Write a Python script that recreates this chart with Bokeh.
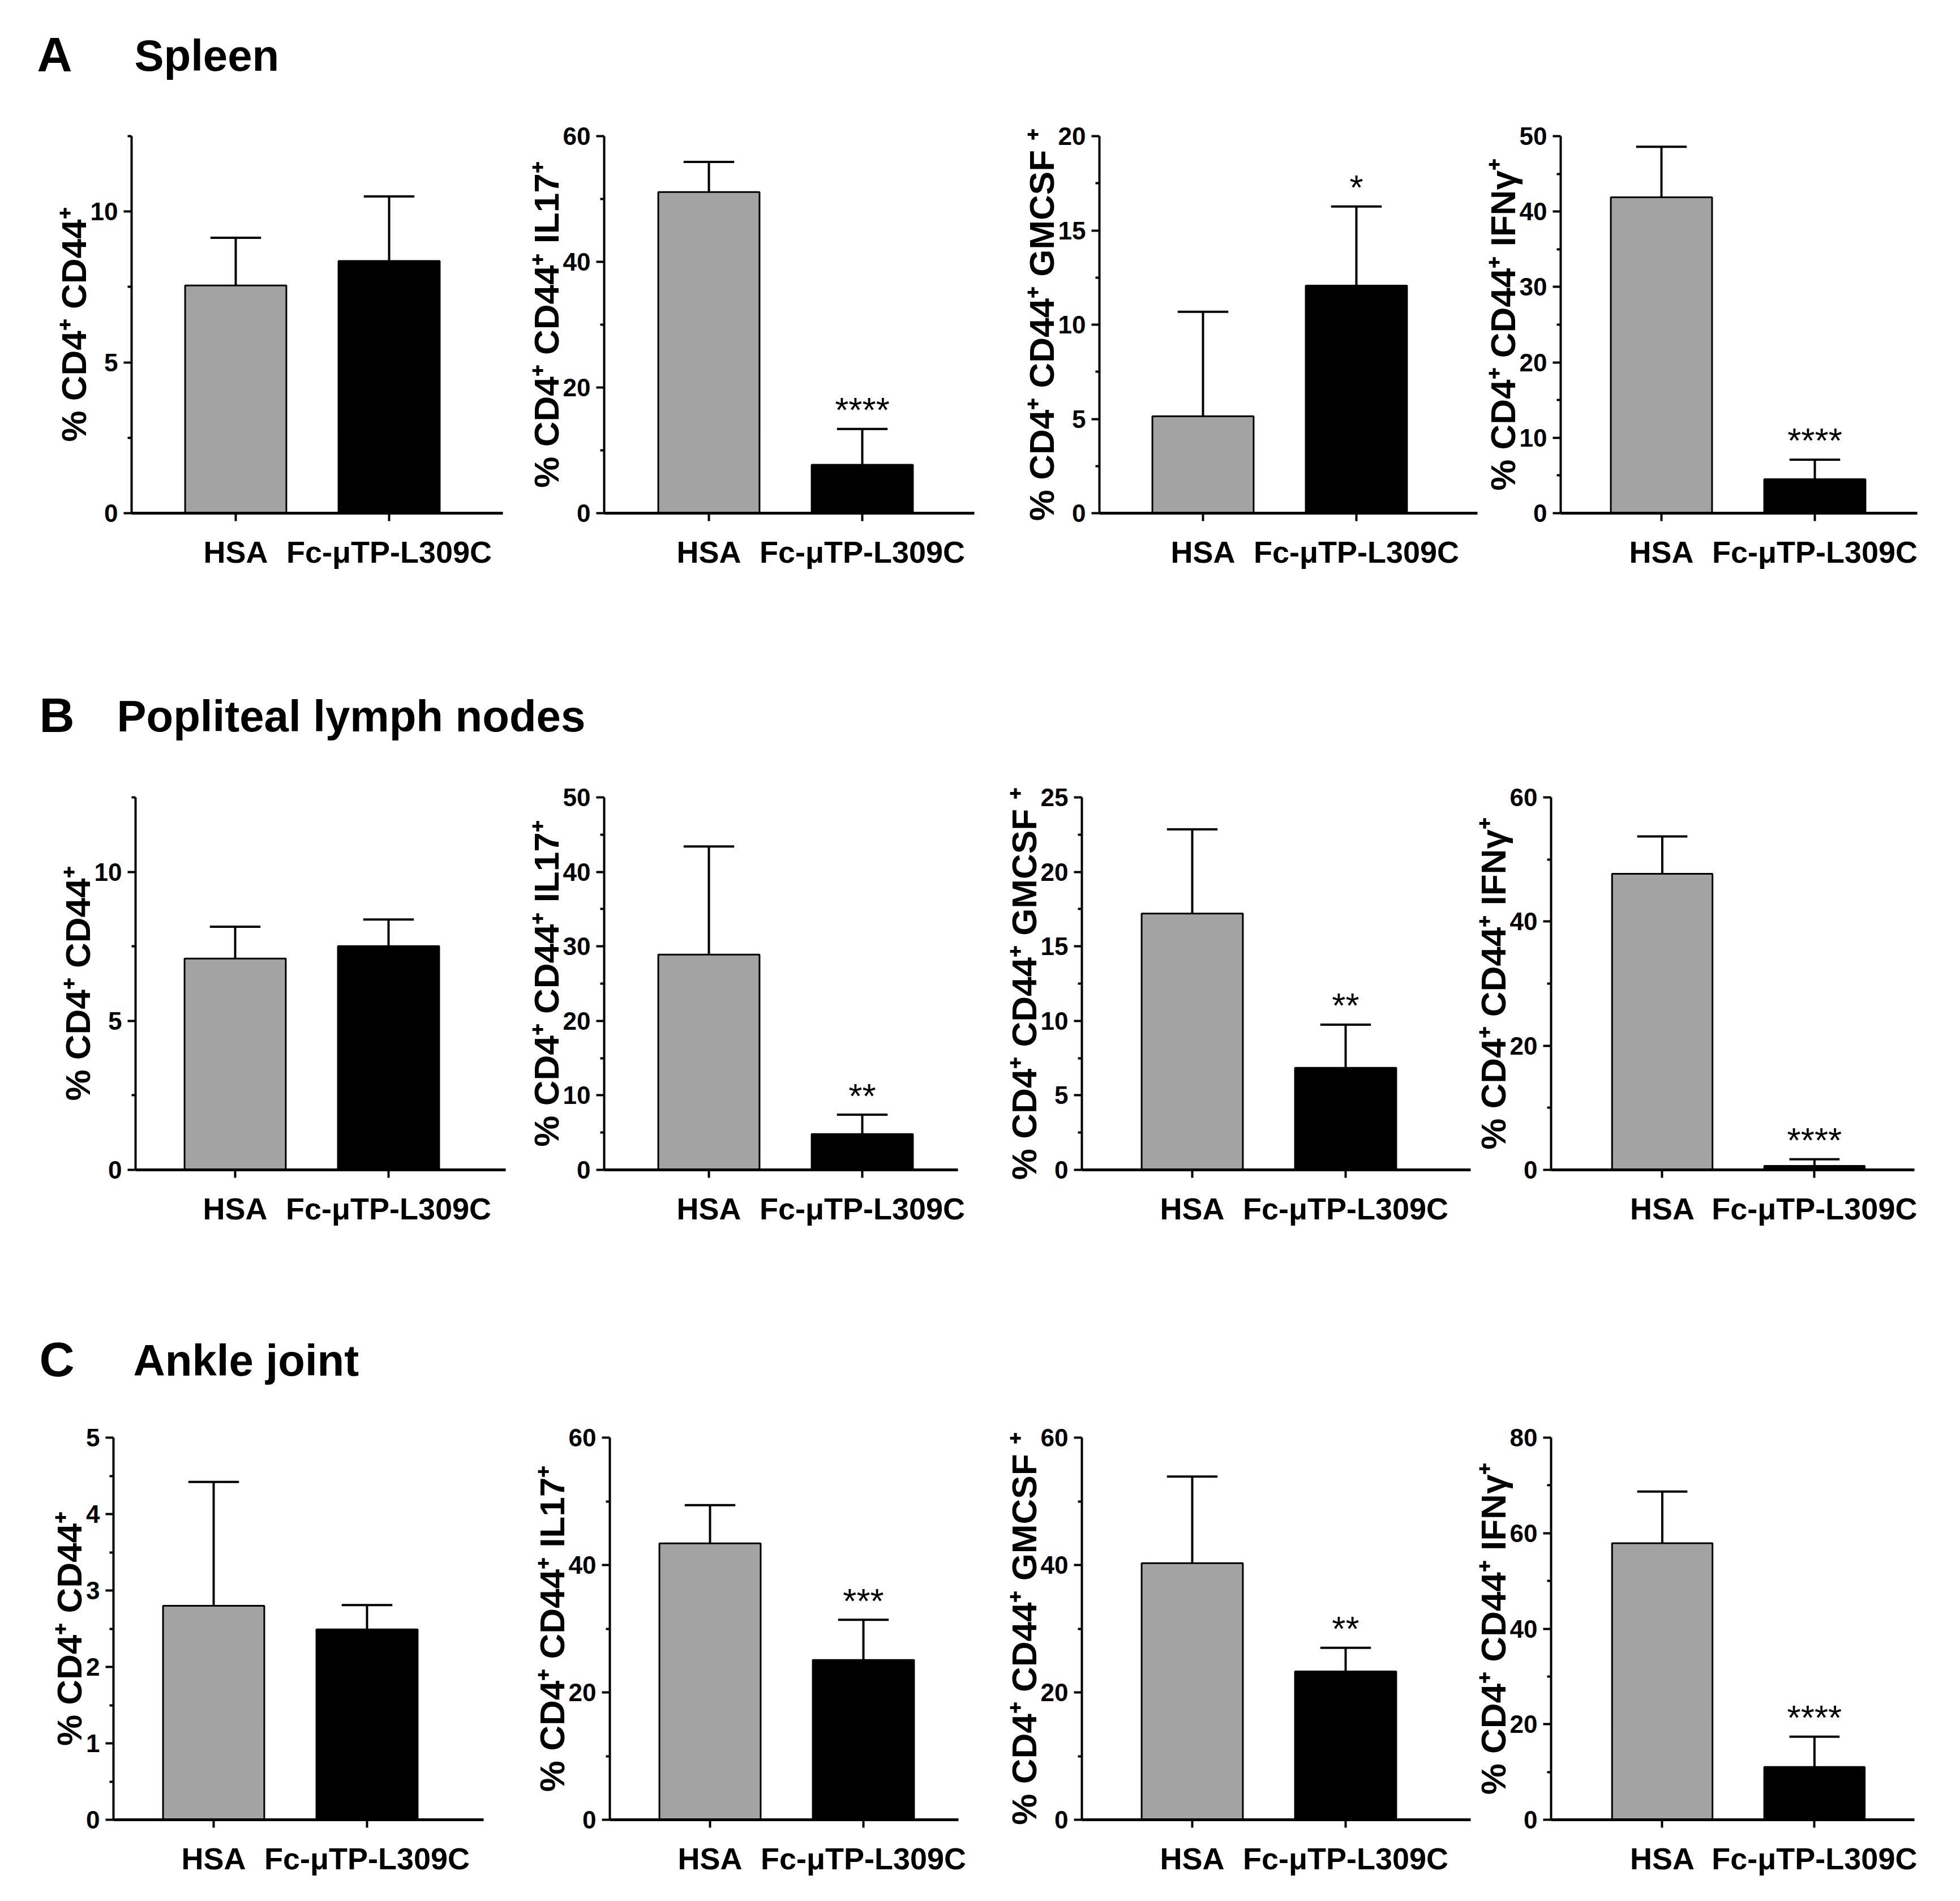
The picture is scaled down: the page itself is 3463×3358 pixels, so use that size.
from bokeh.plotting import figure
from bokeh.layouts import column, row
from bokeh.models import Range1d, FixedTicker, ColumnDataSource
from bokeh.core.properties import value
from bokeh.embed import file_html
from bokeh.resources import INLINE

FONT = "Liberation Sans"

# ---------------- data ----------------
categories = ["HSA", "Fc-\u03bcTP-L309C"]

section_letters = ["A", "B", "C"]
section_titles = ["Spleen", "Popliteal lymph nodes", "Ankle joint"]

y_labels = ["% CD4\u207a CD44\u207a",
            "% CD4\u207a CD44\u207a IL17\u207a",
            "% CD4\u207a CD44\u207a GMCSF \u207a",
            "% CD4\u207a CD44\u207a IFN\u03b3\u207a"]

# Spleen (mean, SD) for HSA, Fc-uTP-L309C
spleen_cd44 = [7.55, 8.36]
spleen_cd44_sd = [1.58, 2.14]
spleen_il17 = [51.1, 7.7]
spleen_il17_sd = [4.8, 5.7]
spleen_gmcsf = [5.14, 12.07]
spleen_gmcsf_sd = [5.54, 4.2]
spleen_ifng = [41.9, 4.5]
spleen_ifng_sd = [6.7, 2.6]
spleen_sig = ["", "****", "*", "****"]

# Popliteal lymph nodes
pln_cd44 = [7.09, 7.51]
pln_cd44_sd = [1.07, 0.89]
pln_il17 = [28.9, 4.8]
pln_il17_sd = [14.5, 2.6]
pln_gmcsf = [17.2, 6.85]
pln_gmcsf_sd = [5.65, 2.9]
pln_ifng = [47.7, 0.63]
pln_ifng_sd = [6.0, 1.07]
pln_sig = ["", "**", "**", "****"]

# Ankle joint
ankle_cd44 = [2.80, 2.49]
ankle_cd44_sd = [1.62, 0.32]
ankle_il17 = [43.4, 25.1]
ankle_il17_sd = [6.0, 6.3]
ankle_gmcsf = [40.3, 23.3]
ankle_gmcsf_sd = [13.6, 3.7]
ankle_ifng = [57.9, 11.05]
ankle_ifng_sd = [10.8, 6.35]
ankle_sig = ["", "***", "**", "****"]

# y axes: labelled ticks and upper limits
spleen_yticks = [[0, 5, 10], [0, 20, 40, 60], [0, 5, 10, 15, 20], [0, 10, 20, 30, 40, 50]]
spleen_ymax = [12.5, 60, 20, 50]
pln_yticks = [[0, 5, 10], [0, 10, 20, 30, 40, 50], [0, 5, 10, 15, 20, 25], [0, 20, 40, 60]]
pln_ymax = [12.5, 50, 25, 60]
ankle_yticks = [[0, 1, 2, 3, 4, 5], [0, 20, 40, 60], [0, 20, 40, 60], [0, 20, 40, 60, 80]]
ankle_ymax = [5, 60, 60, 80]

# ---------------- style / layout ----------------
BAR_COLORS = ["#a3a3a3", "#000000"]
UNIT = 271.0          # px per category step
BAR_W = 0.66
CAP_HALF = 0.165

# (fig width, fig height, border left, border top, frame width, frame height, offset of first bar centre)
geom_A = [(910, 1000, 232, 62, 656, 687, 184), (847, 1000, 157, 68, 654, 681, 185),
          (855, 1000, 185, 51, 668, 683, 183), (835, 1000, 145, 54, 630, 681, 178)]
geom_B = [(910, 880, 239, 76, 654, 684, 176), (847, 880, 157, 76, 625, 684, 185),
          (843, 880, 154, 76, 687, 684, 195), (847, 880, 135, 52, 647, 682, 198)]
geom_C = [(910, 860, 200, 67, 654, 675, 177), (847, 860, 167, 67, 616, 675, 177),
          (843, 860, 154, 67, 687, 675, 195), (847, 860, 135, 67, 647, 675, 198)]


def minor_of(ticks, ymax):
    step = ticks[1] - ticks[0]
    out = []
    v = step / 2.0
    while v <= ymax + 1e-9:
        if all(abs(v - t) > 1e-9 for t in ticks):
            out.append(v)
        v += step / 2.0
    return out


def make_panel(mean, sd, ymax, ticks, ylabel, sig, geom):
    width, height, left, top, fw, fh, off = geom
    x0 = 1 - off / UNIT
    x1 = x0 + fw / UNIT
    p = figure(width=width, height=height, x_range=Range1d(x0, x1), y_range=Range1d(0, ymax),
               output_backend="svg", toolbar_location=None,
               min_border_left=left, min_border_right=width - left - fw,
               min_border_top=top, min_border_bottom=height - top - fh)
    p.outline_line_color = None
    p.grid.visible = False
    p.background_fill_color = "white"
    p.border_fill_color = "white"

    xs = list(range(1, len(categories) + 1))
    tops = [m + s for m, s in zip(mean, sd)]
    src = ColumnDataSource(dict(
        x=xs, mean=mean, top=tops,
        cl=[x - CAP_HALF for x in xs], cr=[x + CAP_HALF for x in xs],
        color=BAR_COLORS, sig=["", sig]))

    p.segment(x0="x", y0="mean", x1="x", y1="top", source=src, line_color="black", line_width=4)
    p.segment(x0="cl", y0="top", x1="cr", y1="top", source=src, line_color="black", line_width=4)
    p.vbar(x="x", top="mean", bottom=0, width=BAR_W, source=src,
           fill_color="color", line_color="black", line_width=3)
    p.text(x="x", y="top", text="sig", source=src, text_font=value(FONT),
           text_font_size="62px", text_align="center", text_baseline="alphabetic",
           y_offset=-34, text_color="black")

    # x axis
    xa = p.xaxis[0]
    xa.ticker = FixedTicker(ticks=xs, minor_ticks=[])
    xa.major_label_overrides = {x: c for x, c in zip(xs, categories)}
    xa.axis_line_width = 5
    xa.major_tick_in = 0
    xa.major_tick_out = 14
    xa.major_tick_line_width = 4
    xa.major_label_text_font = FONT
    xa.major_label_text_font_style = "bold"
    xa.major_label_text_font_size = "54px"
    xa.major_label_standoff = 24
    xa.major_label_text_color = "black"

    # y axis
    ya = p.yaxis[0]
    ya.ticker = FixedTicker(ticks=ticks, minor_ticks=minor_of(ticks, ymax))
    ya.axis_line_width = 4
    ya.major_tick_in = 0
    ya.major_tick_out = 14
    ya.major_tick_line_width = 4
    ya.minor_tick_in = 0
    ya.minor_tick_out = 7
    ya.minor_tick_line_width = 4
    ya.major_label_text_font = FONT
    ya.major_label_text_font_style = "bold"
    ya.major_label_text_font_size = "44px"
    ya.major_label_standoff = 10
    ya.major_label_text_color = "black"
    ya.axis_label = ylabel
    ya.axis_label_text_font = FONT
    ya.axis_label_text_font_style = "bold"
    ya.axis_label_text_font_size = "62px"
    ya.axis_label_standoff = -8
    ya.axis_label_text_color = "black"
    return p


def title_fig(h, letter, text, letter_x, text_x, base_y):
    t = figure(width=3447, height=h, x_range=Range1d(0, 3447), y_range=Range1d(h, 0),
               output_backend="svg", toolbar_location=None, x_axis_type=None, y_axis_type=None,
               min_border_left=0, min_border_right=0, min_border_top=0, min_border_bottom=0)
    t.outline_line_color = None
    t.grid.visible = False
    t.text(x=[letter_x], y=[base_y], text=[letter], text_font=value(FONT), text_font_style="bold",
           text_font_size="86px", text_baseline="alphabetic", text_color="black")
    t.text(x=[text_x], y=[base_y + 2], text=[text], text_font=value(FONT), text_font_style="bold",
           text_font_size="78px", text_baseline="alphabetic", text_color="black")
    return t


def make_row(means, sds, ymaxs, yticks, sigs, geoms):
    figs = []
    for i in range(4):
        figs.append(make_panel(means[i], sds[i], ymaxs[i], yticks[i], y_labels[i], sigs[i], geoms[i]))
    return row(*figs)


rowA = make_row([spleen_cd44, spleen_il17, spleen_gmcsf, spleen_ifng],
                [spleen_cd44_sd, spleen_il17_sd, spleen_gmcsf_sd, spleen_ifng_sd],
                spleen_ymax, spleen_yticks, spleen_sig, geom_A)
rowB = make_row([pln_cd44, pln_il17, pln_gmcsf, pln_ifng],
                [pln_cd44_sd, pln_il17_sd, pln_gmcsf_sd, pln_ifng_sd],
                pln_ymax, pln_yticks, pln_sig, geom_B)
rowC = make_row([ankle_cd44, ankle_il17, ankle_gmcsf, ankle_ifng],
                [ankle_cd44_sd, ankle_il17_sd, ankle_gmcsf_sd, ankle_ifng_sd],
                ankle_ymax, ankle_yticks, ankle_sig, geom_C)

tA = title_fig(172, section_letters[0], section_titles[0], 65, 237, 95)
tB = title_fig(160, section_letters[1], section_titles[1], 69, 206, 90)
tC = title_fig(260, section_letters[2], section_titles[2], 69, 235, 188)

layout = column(tA, rowA, tB, rowB, tC, rowC)

open("out.html", "w").write(file_html(layout, INLINE))
